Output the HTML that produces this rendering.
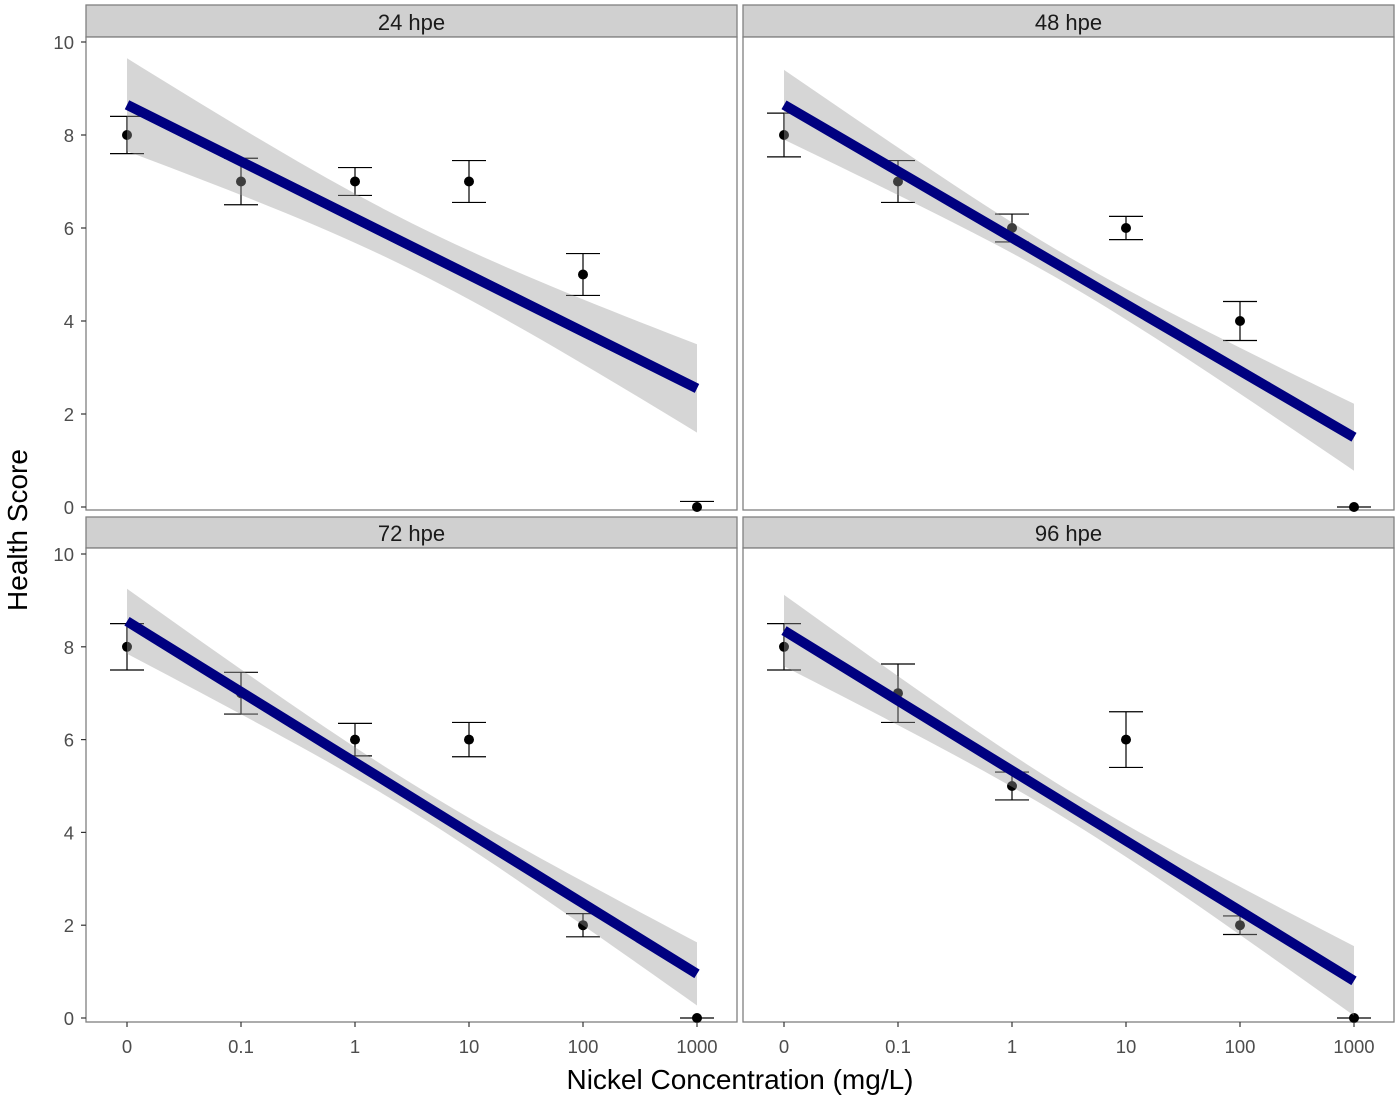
<!DOCTYPE html>
<html><head><meta charset="utf-8"><style>
html,body{margin:0;padding:0;background:#fff;}
svg{display:block;font-family:"Liberation Sans",sans-serif;}
</style></head><body>
<svg id="s" width="1400" height="1100" xmlns="http://www.w3.org/2000/svg"></svg>
<script>
const S=document.getElementById('s');
let h='';
const panels=[
 {x0:86,x1:737,top:5,ptop:37,pb:510,y10:42,y0:507,title:'24 hpe',l:[8.65,2.55],hw:[1.0,0.5,0.95],
  pts:[[8,.4],[7,.5],[7,.3],[7,.45],[5,.45],[0,.12]]},
 {x0:743,x1:1394,top:5,ptop:37,pb:510,y10:42,y0:507,title:'48 hpe',l:[8.65,1.5],hw:[0.75,0.3,0.72],
  pts:[[8,.47],[7,.45],[6,.3],[6,.25],[4,.42],[0,0]]},
 {x0:86,x1:737,top:517,ptop:548,pb:1022,y10:554,y0:1018,title:'72 hpe',l:[8.55,0.95],hw:[0.7,0.3,0.68],
  pts:[[8,.5],[7,.45],[6,.35],[6,.37],[2,.25],[0,0]]},
 {x0:743,x1:1394,top:517,ptop:548,pb:1022,y10:554,y0:1018,title:'96 hpe',l:[8.35,0.8],hw:[0.77,0.32,0.75],
  pts:[[8,.5],[7,.63],[5,.3],[6,.6],[2,.2],[0,0]]}
];
const labs=['0','0.1','1','10','100','1000'];
panels.forEach((p,pi)=>{
 const xs=i=>p.x0+41+i*114;
 const ys=v=>p.y0+(p.y10-p.y0)*v/10;
 h+=`<rect x="${p.x0}" y="${p.top}" width="${p.x1-p.x0}" height="${p.ptop-p.top}" fill="#d0d0d0" stroke="#808080" stroke-width="1.3"/>`;
 h+=`<text x="${(p.x0+p.x1)/2}" y="${p.ptop-7}" font-size="22" text-anchor="middle" fill="#1a1a1a">${p.title}</text>`;
 h+=`<rect x="${p.x0}" y="${p.ptop}" width="${p.x1-p.x0}" height="${p.pb-p.ptop}" fill="#fff" stroke="#808080" stroke-width="1.3"/>`;
 p.pts.forEach((d,i)=>{
  const x=xs(i),yt=ys(d[0]+d[1]),yb=ys(Math.max(0,d[0]-d[1]));
  h+=`<line x1="${x}" y1="${yt}" x2="${x}" y2="${yb}" stroke="#000" stroke-width="1.2"/>`;
  h+=`<line x1="${x-17}" y1="${yt}" x2="${x+17}" y2="${yt}" stroke="#000" stroke-width="1.2"/>`;
  if(d[0]-d[1]>0)h+=`<line x1="${x-17}" y1="${yb}" x2="${x+17}" y2="${yb}" stroke="#000" stroke-width="1.2"/>`;
  h+=`<circle cx="${x}" cy="${ys(d[0])}" r="5" fill="#000"/>`;
 });
 const up=[],dn=[];
 for(let k=0;k<=40;k++){
  const t=k/40,v=p.l[0]+(p.l[1]-p.l[0])*t;
  const a=p.hw[1],e=(t<0.5?p.hw[0]:p.hw[2]);
  const w=Math.sqrt(a*a+(e*e-a*a)*Math.pow((t-0.5)/0.5,2));
  const x=xs(0)+t*570;
  up.push(`${x},${ys(v+w)}`);dn.unshift(`${x},${ys(v-w)}`);
 }
 h+=`<polygon points="${up.concat(dn).join(' ')}" fill="#999" fill-opacity="0.4"/>`;
 h+=`<line x1="${xs(0)}" y1="${ys(p.l[0])}" x2="${xs(5)}" y2="${ys(p.l[1])}" stroke="#000080" stroke-width="10"/>`;
 if(p.x0<100){
  for(let v=0;v<=10;v+=2){
   const y=ys(v);
   h+=`<line x1="${p.x0-5}" y1="${y}" x2="${p.x0}" y2="${y}" stroke="#333" stroke-width="1.2"/>`;
   h+=`<text x="${p.x0-12}" y="${y+7}" font-size="18.5" text-anchor="end" fill="#4d4d4d">${v}</text>`;
  }
 }
 if(p.top>500){
  labs.forEach((l,i)=>{
   const x=xs(i);
   h+=`<line x1="${x}" y1="${p.pb}" x2="${x}" y2="${p.pb+5}" stroke="#333" stroke-width="1.2"/>`;
   h+=`<text x="${x}" y="${p.pb+31}" font-size="18.5" text-anchor="middle" fill="#4d4d4d">${l}</text>`;
  });
 }
});
h+=`<text x="740" y="1089" font-size="28" text-anchor="middle" fill="#000">Nickel Concentration (mg/L)</text>`;
h+=`<text transform="translate(27,530) rotate(-90)" font-size="28" text-anchor="middle" fill="#000">Health Score</text>`;
S.innerHTML=h;
</script>
</body></html>
